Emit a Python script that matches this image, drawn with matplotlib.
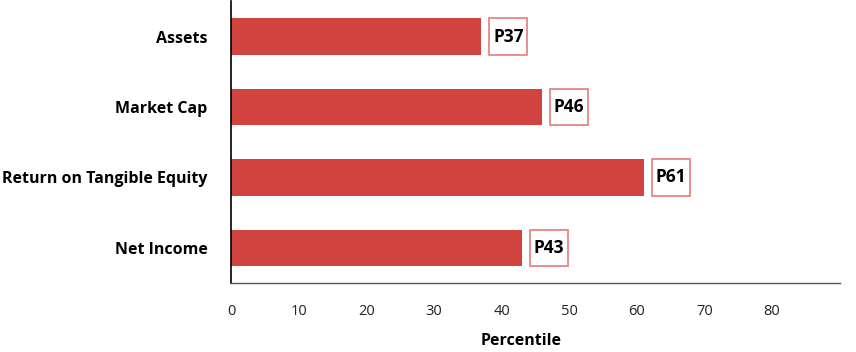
import matplotlib.pyplot as plt

categories = ['Assets', 'Market Cap', 'Return on Tangible Equity', 'Net Income']
percentiles = [37, 46, 61, 43]
labels = ['P37', 'P46', 'P61', 'P43']

plt.rcParams['font.family'] = ['Open Sans', 'DejaVu Sans']

fig = plt.figure(figsize=(8.56, 3.52), dpi=100)
ax = fig.add_axes([0.27, 0.196, 0.711, 0.8])

bar_color = '#d0433f'
box_edge = '#e57c7a'
ypos = list(range(len(categories)))

ax.barh(ypos, percentiles, height=0.52, color=bar_color)

# label boxes just right of each bar
offset = 1.2
box_w = 5.6
lefts = [p + offset for p in percentiles]
ax.barh(ypos, [box_w] * len(ypos), left=lefts, height=0.52,
        color='white', edgecolor=box_edge, linewidth=1.2)
for y, l, lab in zip(ypos, lefts, labels):
    ax.text(l + box_w / 2, y, lab, ha='center', va='center',
            fontsize=12.5, fontweight='bold', color='black')

ax.set_yticks(ypos)
ax.set_yticklabels(categories, fontsize=11.5, fontweight='bold')
ax.set_ylim(3.5, -0.5)
ax.set_xlim(0, 90)
ax.set_xticks(range(0, 90, 10))
ax.tick_params(axis='x', length=0, pad=15, labelsize=10.5, labelcolor='#222222')
ax.tick_params(axis='y', length=0, pad=17)

ax.set_xlabel('Percentile', fontsize=11.5, fontweight='bold')
ax.xaxis.set_label_coords(0.477, -0.178)

for s in ['top', 'right']:
    ax.spines[s].set_visible(False)
ax.spines['left'].set_color('black')
ax.spines['left'].set_linewidth(1.2)
ax.spines['bottom'].set_color('#555555')
ax.spines['bottom'].set_linewidth(1.0)

fig.savefig('out.png', dpi=100)
